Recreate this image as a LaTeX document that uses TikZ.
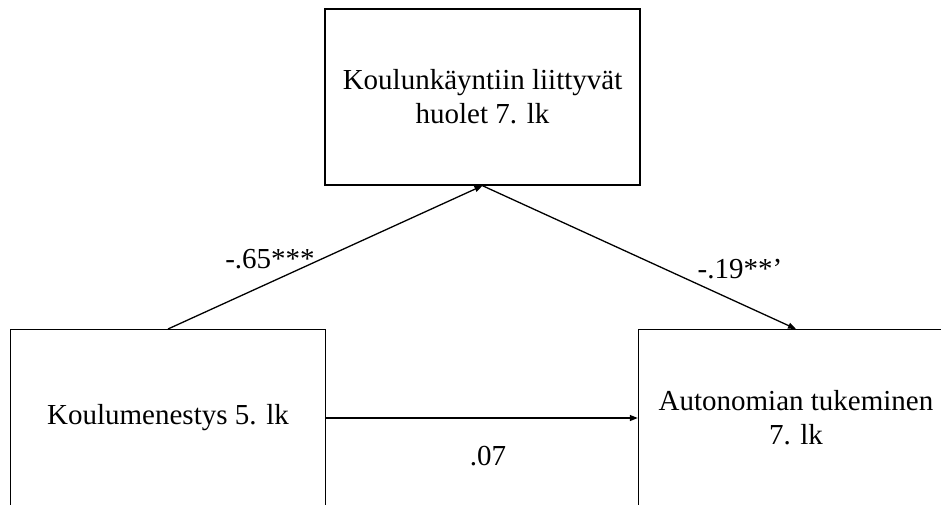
\documentclass[tikz,border=0pt]{standalone}
\usepackage{fontspec}
\setmainfont{Liberation Serif}
\usetikzlibrary{arrows.meta}
\begin{document}
\begin{tikzpicture}[x=1pt,y=-1pt,
  box/.style={draw,line width=1.4pt,minimum width=315pt,minimum height=176pt,inner sep=0pt,align=center,font=\fontsize{29}{34}\selectfont},
  lowbox/.style={box,minimum height=182pt},
  conn/.style={line width=1.3pt,-{Triangle[length=8pt,width=6pt]}},
  lbl/.style={font=\fontsize{29}{34}\selectfont,inner sep=0pt}]
\useasboundingbox (0,0) rectangle (941,504);
\clip (0,0) rectangle (941,504);
\node[box] (top) at (482.5,97) {Koulunkäyntiin liittyvät\\huolet 7. lk};
\node[lowbox,anchor=north] (left) at (168,329) {};
\node[lowbox,anchor=north] (right) at (796,329) {};
\node[font=\fontsize{29}{34}\selectfont,align=center,inner sep=0pt] (lefttext) at (168,418) {Koulumenestys 5. lk};
\node[font=\fontsize{29}{34}\selectfont,align=center,inner sep=0pt] (righttext) at (796,418) {Autonomian tukeminen\\7. lk};
\coordinate (hl) at (left.east |- lefttext);
\coordinate (hr) at (right.west |- lefttext);
\draw[conn] (left.north) -- (top.south);
\draw[conn] (top.south) -- (right.north);
\draw[conn] (hl) -- (hr);
\node[lbl,anchor=base] (l1) at (270,268) {-.65***};
\node[lbl,anchor=base] (l2) at (740,278) {-.19**’};
\node[lbl,anchor=base] (l3) at (488,465) {.07};
\end{tikzpicture}
\end{document}
